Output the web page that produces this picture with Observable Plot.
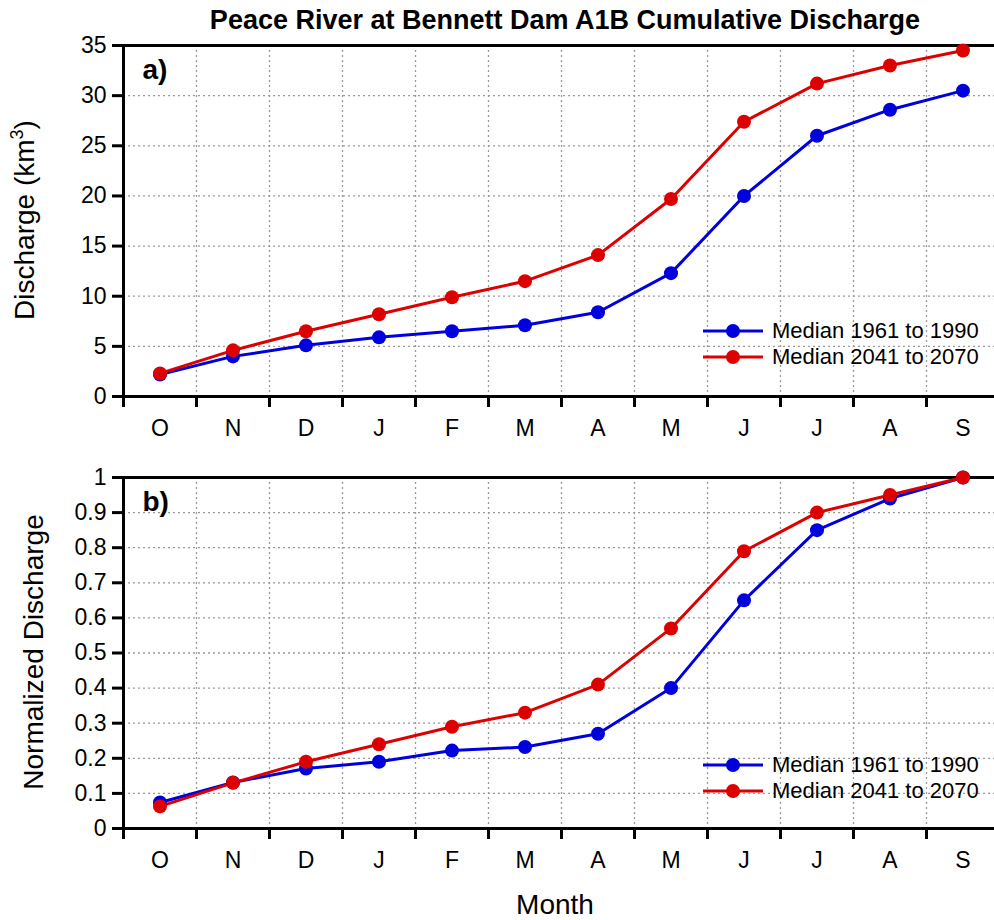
<!DOCTYPE html>
<html><head><meta charset="utf-8">
<script src="https://cdn.jsdelivr.net/npm/d3@7"></script>
<script src="https://cdn.jsdelivr.net/npm/@observablehq/plot@0.6"></script>
<style>
body{margin:0;background:#fff;font-family:"Liberation Sans",Arial,sans-serif;color:#000;}
#root{position:relative;width:994px;height:920px;overflow:hidden;}
.abs{position:absolute;}
#title{left:565px;top:20px;transform:translate(-50%,-50%);font-weight:bold;font-size:27px;white-space:nowrap;}
#xlabel{left:555px;top:905px;transform:translate(-50%,-50%);font-size:28px;white-space:nowrap;}
.ylab{position:absolute;font-size:28px;line-height:1;white-space:nowrap;transform:translate(-50%,-50%) rotate(-90deg);}
.ylab sup{font-size:18px;vertical-align:0;position:relative;top:-11px;}
.legrow{position:absolute;left:703px;height:26px;display:flex;align-items:center;font-size:22px;white-space:nowrap;}
.legrow svg{margin-right:9px;}
</style></head><body><div id="root"></div>
<script>
const months = ["O","N","D","J","F","M","A","M","J","J","A","S"];
const seriesNames = ["Median 1961 to 1990", "Median 2041 to 2070"];
const seriesColors = ["#0000dd", "#dd0000"];
const dischargeBase   = [2.2, 4.0, 5.1, 5.9, 6.5, 7.1, 8.4, 12.3, 20.0, 26.0, 28.6, 30.5];
const dischargeFuture = [2.3, 4.6, 6.5, 8.2, 9.9, 11.5, 14.1, 19.7, 27.4, 31.2, 33.0, 34.5];
const normBase   = [0.074, 0.131, 0.171, 0.19, 0.222, 0.232, 0.27, 0.40, 0.65, 0.85, 0.94, 1.0];
const normFuture = [0.063, 0.13, 0.19, 0.24, 0.29, 0.33, 0.41, 0.57, 0.79, 0.90, 0.95, 1.0];
const dischargeTicks = [0, 5, 10, 15, 20, 25, 30, 35];
const normTicks = [0, 0.1, 0.2, 0.3, 0.4, 0.5, 0.6, 0.7, 0.8, 0.9, 1];

const root = document.getElementById("root");

function panel({base, fut, yTicks, yFmt, tag}) {
  const yMax = yTicks[yTicks.length - 1];
  const rows = [];
  [base, fut].forEach((arr, s) => arr.forEach((v, i) => rows.push({i, s, v})));
  const grid = {stroke: "#9a9a9a", strokeOpacity: 1, strokeDasharray: "2,3", strokeWidth: 1.3};
  const frame = {stroke: "#000", strokeWidth: 3};
  return Plot.plot({
    width: 994, height: 410,
    marginTop: 10, marginBottom: 49, marginLeft: 123, marginRight: -5,
    style: {fontFamily: "'Liberation Sans', Arial, sans-serif", fontSize: "23px", color: "#000", background: "transparent", overflow: "visible"},
    x: {domain: [0, 12]},
    y: {domain: [0, yMax]},
    color: {type: "identity"},
    marks: [
      Plot.gridY(yTicks.filter(t => t > 0 && t < yMax), grid),
      Plot.gridX(d3.range(1, 12), grid),
      Plot.ruleY([yMax], frame),
      Plot.ruleY([0], frame),
      Plot.ruleX([0], frame),
      Plot.axisY(yTicks, {tickSize: 11, tickPadding: 6, strokeWidth: 3, tickFormat: yFmt, label: null, fontSize: 23}),
      Plot.axisX(d3.range(0, 13), {tickSize: 11, strokeWidth: 3, tickFormat: () => "", label: null}),
      Plot.axisX(d3.range(12).map(i => i + 0.5), {tickSize: 0, tickPadding: 23, tickFormat: d => months[Math.floor(d)], label: null, fontSize: 23}),
      Plot.line(rows, {x: d => d.i + 0.5, y: "v", z: "s", stroke: d => seriesColors[d.s], strokeWidth: 3}),
      Plot.dot(rows, {x: d => d.i + 0.5, y: "v", fill: d => seriesColors[d.s], r: 7}),
      Plot.text([tag], {frameAnchor: "top-left", dx: 19, dy: 14, lineAnchor: "top", textAnchor: "start", fontSize: 28, fontWeight: "bold"})
    ]
  });
}

function place(el, top) { el.style.position = "absolute"; el.style.left = "0px"; el.style.top = top + "px"; root.appendChild(el); }

const title = document.createElement("div");
title.id = "title"; title.className = "abs";
title.textContent = "Peace River at Bennett Dam A1B Cumulative Discharge";
root.appendChild(title);

place(panel({base: dischargeBase, fut: dischargeFuture, yTicks: dischargeTicks, yFmt: d => String(d), tag: "a)"}), 35);
place(panel({base: normBase, fut: normFuture, yTicks: normTicks, yFmt: d => String(+d.toFixed(1)), tag: "b)"}), 467);

function ylabel(html, cx, cy) {
  const d = document.createElement("div");
  d.className = "ylab"; d.innerHTML = html;
  d.style.left = cx + "px"; d.style.top = cy + "px";
  root.appendChild(d);
}
ylabel("Discharge (km<sup>3</sup>)", 25, 220);
ylabel("Normalized Discharge", 34, 652);

function legend(centers) {
  centers.forEach((cy, s) => {
    const row = document.createElement("div");
    row.className = "legrow";
    row.style.top = (cy - 13) + "px";
    const ns = "http://www.w3.org/2000/svg";
    const svg = document.createElementNS(ns, "svg");
    svg.setAttribute("width", 60); svg.setAttribute("height", 16);
    const ln = document.createElementNS(ns, "line");
    ln.setAttribute("x1", 0); ln.setAttribute("x2", 60); ln.setAttribute("y1", 8); ln.setAttribute("y2", 8);
    ln.setAttribute("stroke", seriesColors[s]); ln.setAttribute("stroke-width", 3);
    const c = document.createElementNS(ns, "circle");
    c.setAttribute("cx", 30); c.setAttribute("cy", 8); c.setAttribute("r", 7); c.setAttribute("fill", seriesColors[s]);
    svg.appendChild(ln); svg.appendChild(c);
    const t = document.createElement("span"); t.textContent = seriesNames[s];
    row.appendChild(svg); row.appendChild(t);
    root.appendChild(row);
  });
}
legend([331, 357]);
legend([765, 791]);

const xl = document.createElement("div");
xl.id = "xlabel"; xl.className = "abs"; xl.textContent = "Month";
root.appendChild(xl);
</script>
</body></html>
